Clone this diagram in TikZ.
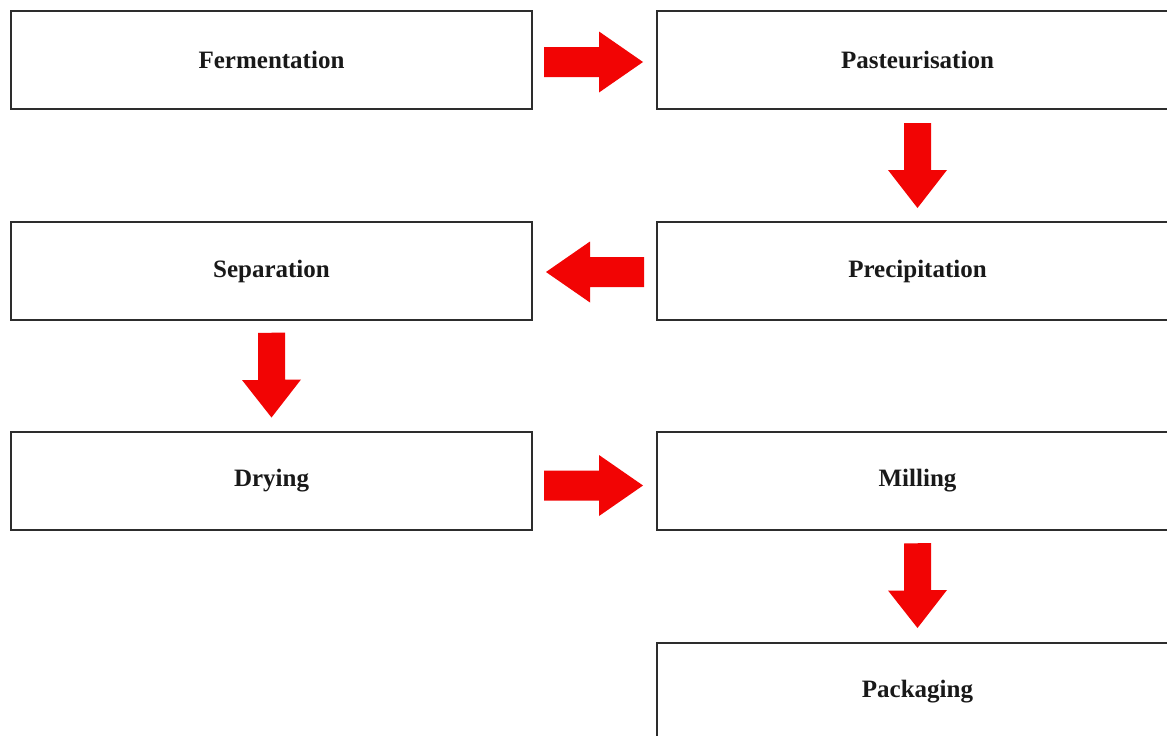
\documentclass[tikz,border=0pt]{standalone}
\usepackage{fontspec}
\setmainfont{Liberation Serif}
\definecolor{boxline}{RGB}{45,45,45}
\definecolor{arrred}{RGB}{242,4,4}
\definecolor{txt}{RGB}{25,25,25}
\tikzset{
  stepbox/.style={draw=boxline, line width=2pt, minimum width=521pt, minimum height=98pt,
    inner sep=0pt, text=txt, font=\fontsize{25}{30}\selectfont\bfseries},
  arr/.style={fill=arrred}
}
\begin{document}
\begin{tikzpicture}[x=1pt,y=1pt]
\useasboundingbox (0,0) rectangle (1167,-736);
\fill[white] (0,0) rectangle (1167,-736);
\clip (0,0) rectangle (1167,-736);
% boxes
\node[stepbox] (fer) at (271.5,-60) {Fermentation};
\node[stepbox] (pas) at (917.5,-60) {Pasteurisation};
\node[stepbox] (sep) at (271.5,-271) {Separation};
\node[stepbox] (pre) at (917.5,-271) {Precipitation};
\node[stepbox] (dry) at (271.5,-480.5) {Drying};
\node[stepbox] (mil) at (917.5,-480.5) {Milling};
\node[stepbox] (pac) at (917.5,-692) {Packaging};
% right arrow fer -> pas
\fill[arr] ([shift={(11pt,-2pt)}]fer.east) ++(0,15) -- ++(55,0) -- ++(0,15.5)
  -- ([shift={(-13pt,-2pt)}]pas.west) -- ++(-44,-30.5) -- ++(0,15.5) -- ++(-55,0) -- cycle;
% down arrow pas -> pre
\fill[arr] ([yshift=-13pt]pas.south) ++(-13.5,0) -- ++(0,-47) -- ++(-16,0)
  -- ([yshift=13pt]pre.north) -- ++(29.5,38) -- ++(-16,0) -- ++(0,47) -- cycle;
% left arrow pre -> sep
\fill[arr] ([shift={(-12pt,-1pt)}]pre.west) ++(0,15) -- ++(-54,0) -- ++(0,15.5)
  -- ([shift={(13pt,-1pt)}]sep.east) -- ++(44,-30.5) -- ++(0,15.5) -- ++(54,0) -- cycle;
% down arrow sep -> dry
\fill[arr] ([yshift=-12pt]sep.south) ++(-13.5,0) -- ++(0,-47) -- ++(-16,0)
  -- ([yshift=13pt]dry.north) -- ++(29.5,38) -- ++(-16,0) -- ++(0,47) -- cycle;
% right arrow dry -> mil
\fill[arr] ([shift={(11pt,-5pt)}]dry.east) ++(0,15) -- ++(55,0) -- ++(0,15.5)
  -- ([shift={(-13pt,-5pt)}]mil.west) -- ++(-44,-30.5) -- ++(0,15.5) -- ++(-55,0) -- cycle;
% down arrow mil -> pac
\fill[arr] ([yshift=-13pt]mil.south) ++(-13.5,0) -- ++(0,-47) -- ++(-16,0)
  -- ([yshift=14pt]pac.north) -- ++(29.5,38) -- ++(-16,0) -- ++(0,47) -- cycle;
\end{tikzpicture}
\end{document}
